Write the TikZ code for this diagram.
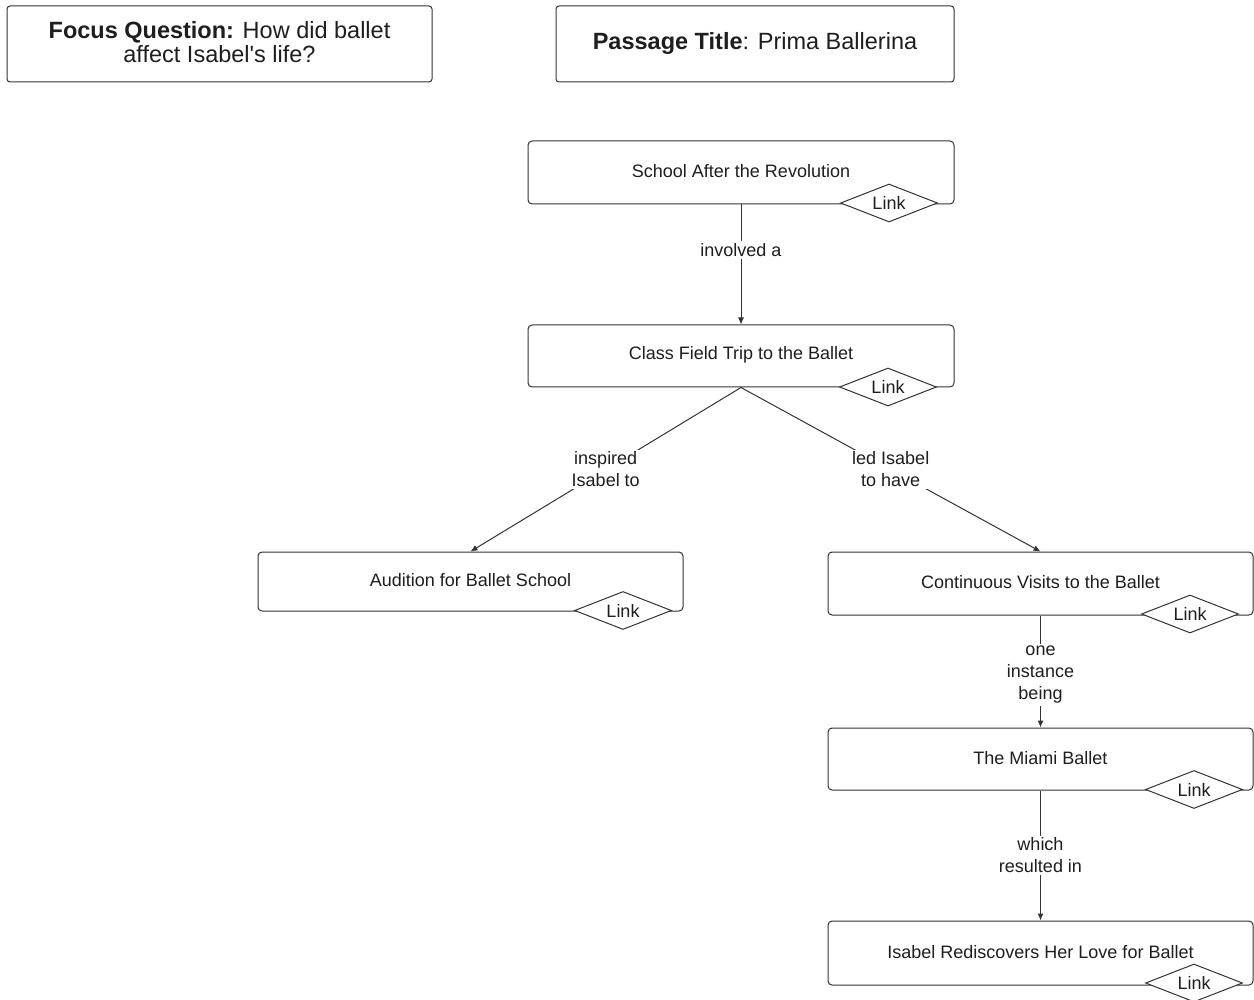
\documentclass[tikz,border=0pt]{standalone}
\usepackage{fontspec}
\setmainfont{Liberation Sans}
\usetikzlibrary{shapes.geometric,arrows.meta}
\definecolor{edge}{HTML}{333333}
\definecolor{ink}{HTML}{1E1E1E}
\begin{document}
\begin{tikzpicture}[x=1pt,y=-1pt,
  every node/.style={text=ink},
  header/.style={draw=edge,line width=1pt,rounded corners=3pt,fill=white,
    inner sep=0pt},
  htext/.style={align=center,inner sep=0pt,font=\fontsize{23.5}{24}\selectfont},
  concept/.style={draw=edge,line width=1pt,rounded corners=4pt,fill=white,
    minimum width=425pt,inner sep=0pt},
  ctext/.style={inner sep=0pt,font=\fontsize{18}{21}\selectfont},
  linktag/.style={diamond,draw=edge,line width=1pt,fill=white,inner sep=0pt,
    minimum width=97pt,minimum height=38pt},
  relation/.style={fill=white,align=center,inner sep=2pt,
    font=\fontsize{18}{22}\selectfont},
  connector/.style={draw=edge,line width=1pt,-{Latex[length=7pt,width=6pt]}}
]
\useasboundingbox[fill=white] (0,0) rectangle (1254,1000);

% header boxes
\node[header,minimum width=425pt,minimum height=76pt] (focus) at (219.5,44) {};
\node[htext] (focusT) at (219.5,42)
  {\textbf{Focus Question:} How did ballet\\affect Isabel\textquotesingle s life?};
\node[header,minimum width=398pt,minimum height=76pt] (title) at (755,44) {};
\node[htext] (titleT) at (755,43) {\textbf{Passage Title}: Prima Ballerina};

% concept boxes
\node[concept,minimum width=426pt,minimum height=63pt] (school) at (741,172.5) {};
\node[ctext] (schoolT) at (741,171) {School After the Revolution};
\node[concept,minimum width=426pt,minimum height=62pt] (trip) at (741,356) {};
\node[ctext] (tripT) at (741,355) {Class Field Trip to the Ballet};
\node[concept,minimum height=59pt] (audition) at (470.5,581.5) {};
\node[ctext] (auditionT) at (470.5,580) {Audition for Ballet School};
\node[concept,minimum height=63pt] (visits) at (1040.5,583.5) {};
\node[ctext] (visitsT) at (1040.5,582) {Continuous Visits to the Ballet};
\node[concept,minimum height=62pt] (miami) at (1040.5,759) {};
\node[ctext] (miamiT) at (1040.5,758) {The Miami Ballet};
\node[concept,minimum height=64pt] (love) at (1040.5,953) {};
\node[ctext] (loveT) at (1040.5,952) {Isabel Rediscovers Her Love for Ballet};

% link tags on the lower edges
\foreach \n/\x/\y in {school/889/203, trip/888/387, audition/623/610.5,
                      visits/1190/614, miami/1194/789.5, love/1194/983} {
  \node[linktag] (\n L) at (\x,\y) {};
  \node[ctext] (\n LT) at (\x,\y) {Link};
}

% connectors
\draw[connector] (school.south) -- node[relation,pos=0.38] {involved a} (trip.north);
\draw[connector] (trip.south) -- node[relation] {inspired\\Isabel to} (audition.north);
\draw[connector] (trip.south) -- node[relation] {led Isabel\\to have} (visits.north);
\draw[connector] (visits.south) -- node[relation,pos=0.53] {one\\instance\\being} (miami.north);
\draw[connector] (miami.south) -- node[relation] {which\\resulted in} (love.north);
\end{tikzpicture}
\end{document}
